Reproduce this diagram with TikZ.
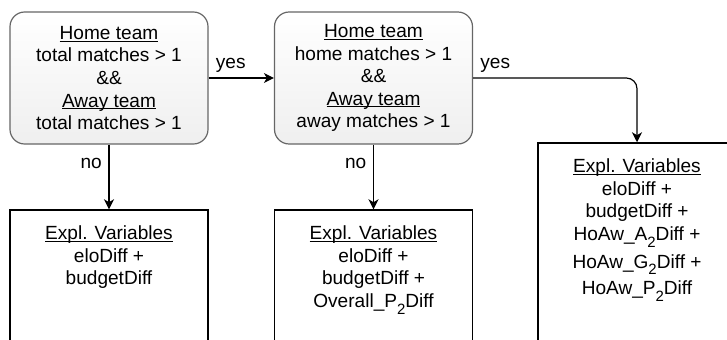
\documentclass[tikz,border=0pt]{standalone}
\usepackage{fontspec}
\setmainfont{Liberation Sans}
\usetikzlibrary{arrows.meta}
\definecolor{condedge}{HTML}{666666}
\definecolor{condfill}{HTML}{EFEFEF}
% underline at a fixed distance below the baseline
\newcommand\undl[1]{\leavevmode\setbox0\hbox{#1}\rlap{\rule[-1.7pt]{\wd0}{0.75pt}}\box0}
% lowered subscript two
\newcommand\subtwo{\raisebox{-5pt}{\fontsize{11.2}{11.2}\selectfont 2}}
\tikzset{
  txt/.style={font=\fontsize{14.3}{16.9}\selectfont, text=black},
  cond/.style={txt, draw=condedge, line width=0.9pt, rounded corners=11pt,
    top color=white, bottom color=condfill, minimum width=148.5pt,
    minimum height=99pt, inner sep=0pt, align=center},
  result/.style={draw=black, line width=1.1pt, fill=white,
    minimum width=148.5pt, inner sep=0pt},
  restext/.style={txt, anchor=north, inner sep=0pt, align=center},
  lbl/.style={txt, inner sep=0pt},
  flow/.style={draw=black, line width=0.9pt,
    -{Stealth[length=7.5pt,width=7.5pt,inset=2.2pt]}}
}
\begin{document}
\begin{tikzpicture}[x=0.75pt,y=-0.75pt]
\useasboundingbox (0,0) rectangle (727,339);
\clip (0,0) rectangle (727,339);

% decision boxes
\node[cond] (c1) at (109,78) {\undl{Home team}\\ total matches > 1\\ \&\&\\ \undl{Away team}\\ total matches > 1};
\node[cond] (c2) at (373.5,78) {\undl{Home team}\\ home matches > 1\\ \&\&\\ \undl{Away team}\\ away matches > 1};

% result boxes (open at the bottom edge)
\node[result, minimum height=120pt] (r1) at (109,290) {};
\node[result, minimum height=120pt] (r2) at (373.5,290) {};
\node[result, minimum height=170.25pt] (r3) at (637,256.5) {};

\node[restext] (t1) at ([yshift=-12.3pt]r1.north) {\undl{Expl. Variables}\\ eloDiff +\\ budgetDiff};
\node[restext] (t2) at ([yshift=-12.3pt]r2.north) {\undl{Expl. Variables}\\ eloDiff +\\ budgetDiff +\\ Overall\_P\subtwo Diff};
\node[restext] (t3) at ([yshift=-12.3pt]r3.north) {\undl{Expl. Variables}\\ eloDiff +\\ budgetDiff +\\ HoAw\_A\subtwo Diff +\\[4pt] HoAw\_G\subtwo Diff +\\[3pt] HoAw\_P\subtwo Diff};

% connectors
\draw[flow] (c1.east) -- (c2.west);
\draw[flow, rounded corners=8pt] (c2.east) -| (r3.north);
\draw[flow] (c1.south) -- (r1.north);
\draw[flow] (c2.south) -- (r2.north);

% connector labels
\node[lbl, anchor=base west] (y1) at ([shift={(7,-10)}]c1.east) {yes};
\node[lbl, anchor=base west] (y2) at ([shift={(7,-10)}]c2.east) {yes};
\node[lbl, anchor=base east] (n1) at ([shift={(-7,24)}]c1.south) {no};
\node[lbl, anchor=base east] (n2) at ([shift={(-7,24)}]c2.south) {no};
\end{tikzpicture}
\end{document}
